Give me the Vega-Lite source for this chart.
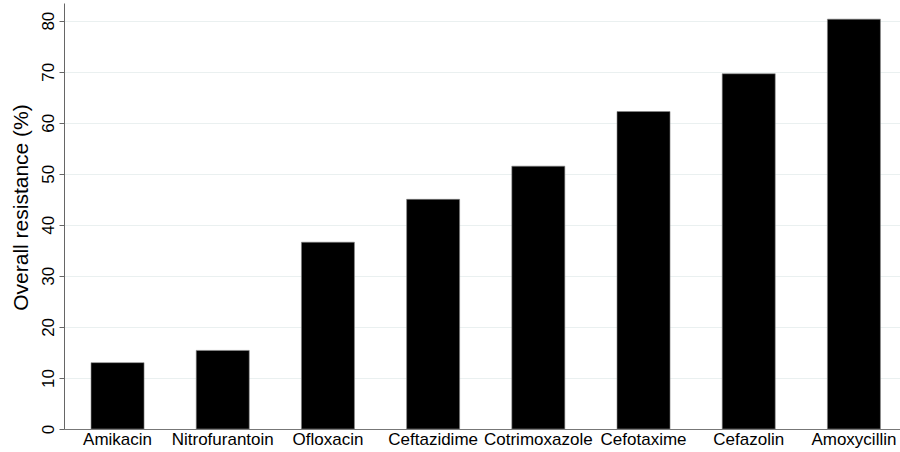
{
  "$schema": "https://vega.github.io/schema/vega-lite/v6.json",
  "autosize": "none",
  "width": 836,
  "height": 426,
  "padding": {"left": 64, "top": 3, "right": 0, "bottom": 23},
  "background": "white",
  "config": {
    "view": {"stroke": null},
    "font": "Liberation Sans"
  },
  "data": {
    "values": [
      {"drug": "Amikacin", "resistance": 13.0},
      {"drug": "Nitrofurantoin", "resistance": 15.4},
      {"drug": "Ofloxacin", "resistance": 36.6},
      {"drug": "Ceftazidime", "resistance": 45.0},
      {"drug": "Cotrimoxazole", "resistance": 51.5},
      {"drug": "Cefotaxime", "resistance": 62.2},
      {"drug": "Cefazolin", "resistance": 69.6},
      {"drug": "Amoxycillin", "resistance": 80.3}
    ]
  },
  "mark": {"type": "bar", "color": "black", "stroke": "#888", "strokeWidth": 0.6},
  "encoding": {
    "x": {
      "field": "drug",
      "type": "nominal",
      "sort": null,
      "scale": {"paddingInner": 0.496, "paddingOuter": 0.2215, "align": 0.58},
      "axis": {
        "title": null,
        "labelAngle": 0,
        "labelFontSize": 17,
        "labelColor": "black",
        "ticks": false,
        "labelPadding": 2,
        "labelOverlap": false,
        "domainColor": "#777",
        "domainWidth": 1,
        "grid": false
      }
    },
    "y": {
      "field": "resistance",
      "type": "quantitative",
      "scale": {"domain": [0, 83.46], "nice": false},
      "axis": {
        "title": "Overall resistance (%)",
        "titleFontSize": 21,
        "titleFontWeight": "normal",
        "titleColor": "black",
        "titlePadding": 8,
        "titleY": 204,
        "values": [0, 10, 20, 30, 40, 50, 60, 70, 80],
        "labelAngle": -90,
        "labelAlign": "center",
        "labelBaseline": "alphabetic",
        "labelFontSize": 17,
        "labelColor": "black",
        "labelPadding": 6,
        "tickSize": 5,
        "tickColor": "#666",
        "domainColor": "#666",
        "grid": true,
        "gridColor": "#eaf0f0",
        "gridWidth": 1
      }
    }
  }
}
